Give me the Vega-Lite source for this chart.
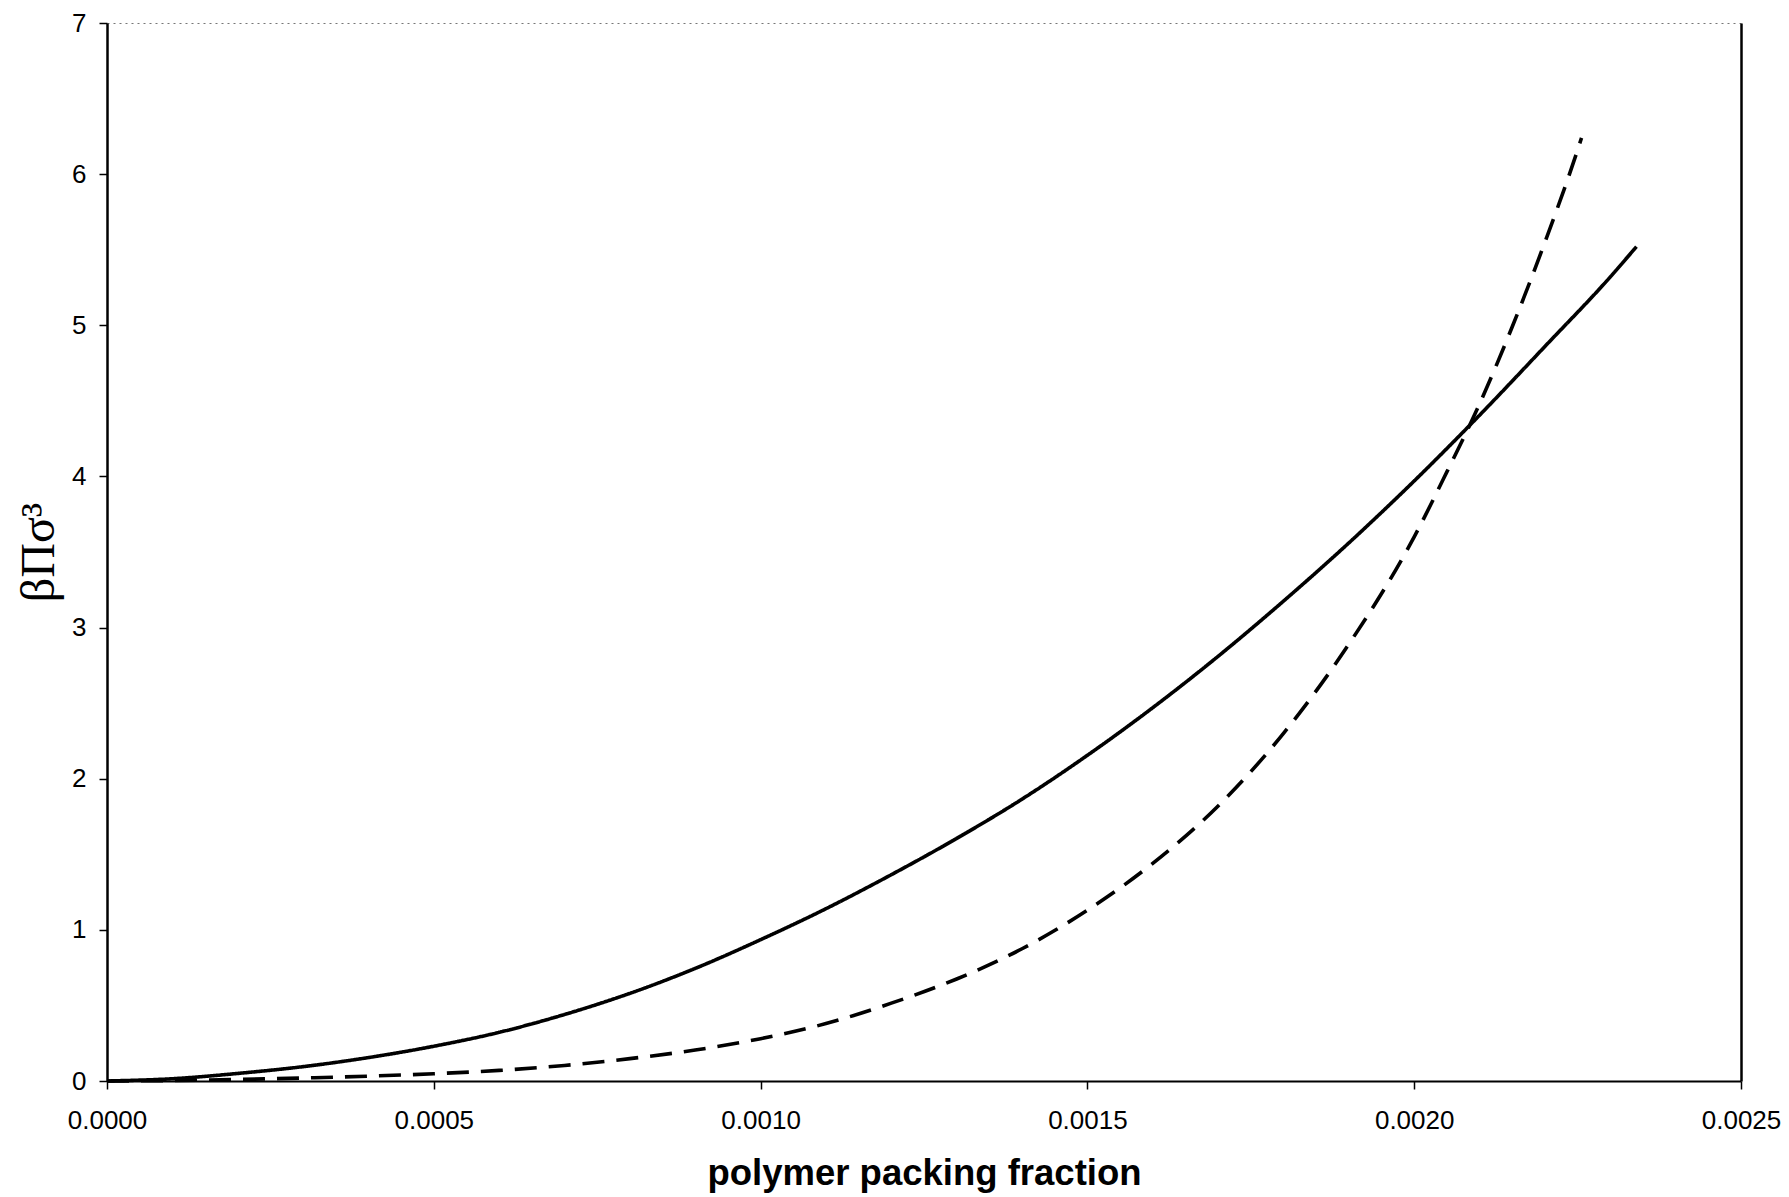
{
  "$schema": "https://vega.github.io/schema/vega-lite/v6.json",
  "width": 1634,
  "height": 1058,
  "autosize": {"type": "none"},
  "padding": {"left": 107, "top": 23, "right": 48, "bottom": 116},
  "background": "white",
  "config": {"view": {"stroke": null}},
  "datasets": {
    "curves": [
      {"series": "solid", "phi": 0, "p": 0},
      {"series": "solid", "phi": 0.0001, "p": 0.015},
      {"series": "solid", "phi": 0.0002, "p": 0.05},
      {"series": "solid", "phi": 0.0003, "p": 0.095},
      {"series": "solid", "phi": 0.0004, "p": 0.155},
      {"series": "solid", "phi": 0.0005, "p": 0.23},
      {"series": "solid", "phi": 0.0006, "p": 0.322},
      {"series": "solid", "phi": 0.0007, "p": 0.44},
      {"series": "solid", "phi": 0.0008, "p": 0.58},
      {"series": "solid", "phi": 0.0009, "p": 0.745},
      {"series": "solid", "phi": 0.001, "p": 0.935},
      {"series": "solid", "phi": 0.0011, "p": 1.14},
      {"series": "solid", "phi": 0.0012, "p": 1.365},
      {"series": "solid", "phi": 0.0013, "p": 1.605},
      {"series": "solid", "phi": 0.0014, "p": 1.865},
      {"series": "solid", "phi": 0.0015, "p": 2.155},
      {"series": "solid", "phi": 0.0016, "p": 2.47},
      {"series": "solid", "phi": 0.0017, "p": 2.81},
      {"series": "solid", "phi": 0.0018, "p": 3.175},
      {"series": "solid", "phi": 0.0019, "p": 3.56},
      {"series": "solid", "phi": 0.002, "p": 3.97},
      {"series": "solid", "phi": 0.0021, "p": 4.405},
      {"series": "solid", "phi": 0.0022, "p": 4.86},
      {"series": "solid", "phi": 0.0023, "p": 5.32},
      {"series": "solid", "phi": 0.00234, "p": 5.52},
      {"series": "dashed", "phi": 0, "p": 0},
      {"series": "dashed", "phi": 0.0001, "p": 0.003},
      {"series": "dashed", "phi": 0.0002, "p": 0.01},
      {"series": "dashed", "phi": 0.0003, "p": 0.02},
      {"series": "dashed", "phi": 0.0004, "p": 0.032},
      {"series": "dashed", "phi": 0.0005, "p": 0.048},
      {"series": "dashed", "phi": 0.0006, "p": 0.07},
      {"series": "dashed", "phi": 0.0007, "p": 0.103},
      {"series": "dashed", "phi": 0.0008, "p": 0.148},
      {"series": "dashed", "phi": 0.0009, "p": 0.205},
      {"series": "dashed", "phi": 0.001, "p": 0.28},
      {"series": "dashed", "phi": 0.0011, "p": 0.38},
      {"series": "dashed", "phi": 0.0012, "p": 0.515},
      {"series": "dashed", "phi": 0.0013, "p": 0.675},
      {"series": "dashed", "phi": 0.0014, "p": 0.875},
      {"series": "dashed", "phi": 0.0015, "p": 1.13},
      {"series": "dashed", "phi": 0.0016, "p": 1.44},
      {"series": "dashed", "phi": 0.0017, "p": 1.82},
      {"series": "dashed", "phi": 0.0018, "p": 2.3},
      {"series": "dashed", "phi": 0.0019, "p": 2.89},
      {"series": "dashed", "phi": 0.002, "p": 3.6},
      {"series": "dashed", "phi": 0.00205, "p": 4.03},
      {"series": "dashed", "phi": 0.0021, "p": 4.48},
      {"series": "dashed", "phi": 0.00215, "p": 4.99},
      {"series": "dashed", "phi": 0.0022, "p": 5.55},
      {"series": "dashed", "phi": 0.00225, "p": 6.16},
      {"series": "dashed", "phi": 0.002256, "p": 6.24}
    ]
  },
  "data": {"name": "curves"},
  "layer": [
    {
      "mark": {"type": "line", "color": "black", "strokeWidth": 3.6, "strokeCap": "butt", "interpolate": "monotone"},
      "encoding": {
        "x": {
          "field": "phi", "type": "quantitative",
          "scale": {"domain": [0, 0.0025], "nice": false, "zero": false},
          "axis": {
            "orient": "bottom",
            "values": [0, 0.0005, 0.001, 0.0015, 0.002, 0.0025],
            "format": ".4f",
            "grid": false,
            "domainColor": "black", "domainWidth": 2,
            "tickColor": "black", "tickSize": 8, "tickWidth": 1.5,
            "labelFont": "Liberation Sans", "labelFontSize": 26, "labelColor": "black",
            "labelPadding": 18, "labelOverlap": false, "labelFlush": false,
            "title": "polymer packing fraction",
            "titleFont": "Liberation Sans", "titleFontSize": 36.5, "titleFontWeight": "bold",
            "titleColor": "black", "titlePadding": 22
          }
        },
        "y": {
          "field": "p", "type": "quantitative",
          "scale": {"domain": [0, 7], "nice": false},
          "axis": {
            "orient": "left",
            "values": [0, 1, 2, 3, 4, 5, 6, 7],
            "format": "d",
            "grid": false,
            "domainColor": "black", "domainWidth": 2.5,
            "tickColor": "black", "tickSize": 8, "tickWidth": 1.5,
            "labelFont": "Liberation Sans", "labelFontSize": 26, "labelColor": "black",
            "labelPadding": 13,
            "title": "βΠσ³",
            "titleFont": "Liberation Serif", "titleFontSize": 48, "titleFontWeight": "normal",
            "titleColor": "black", "titlePadding": 8
          }
        },
        "detail": {"field": "series"},
        "order": {"field": "phi", "type": "quantitative"},
        "strokeDash": {
          "field": "series", "type": "nominal",
          "scale": {"domain": ["solid", "dashed"], "range": [[1, 0], [22, 12]]},
          "legend": null
        }
      }
    },
    {
      "mark": {"type": "line", "opacity": 0},
      "encoding": {
        "x": {
          "field": "phi", "type": "quantitative",
          "axis": {
            "orient": "top", "labels": false, "ticks": false, "grid": false, "title": null,
            "domainColor": "#777777", "domainWidth": 1.2, "domainDash": [2, 4]
          }
        },
        "y": {
          "field": "p", "type": "quantitative",
          "axis": {
            "orient": "right", "labels": false, "ticks": false, "grid": false, "title": null,
            "domainColor": "black", "domainWidth": 2.5
          }
        },
        "detail": {"field": "series"}
      }
    }
  ],
  "resolve": {"axis": {"x": "independent", "y": "independent"}}
}
